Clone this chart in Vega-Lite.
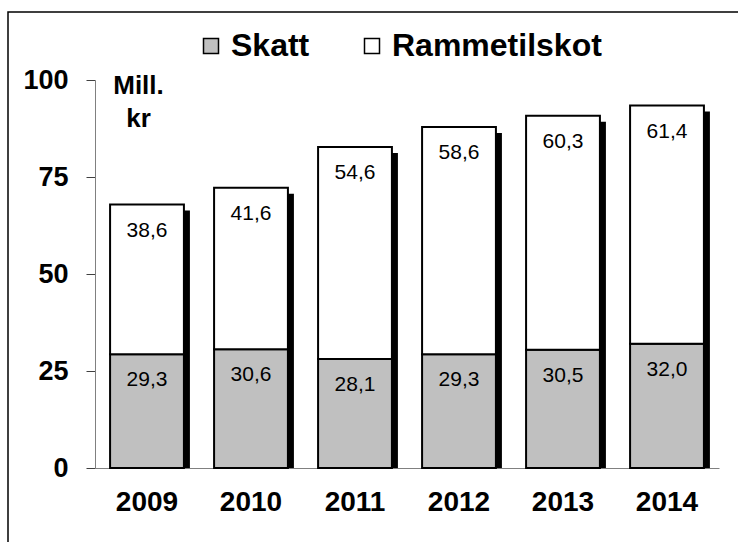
{
  "$schema": "https://vega.github.io/schema/vega-lite/v6.json",
  "width": 740,
  "height": 540,
  "autosize": {"type": "none"},
  "padding": {"left": 8, "top": 12, "right": -10, "bottom": -10},
  "background": "white",
  "config": {
    "view": {"stroke": "black", "strokeWidth": 1.5},
    "font": "Liberation Sans",
    "locale": {"number": {"decimal": ",", "thousands": " ", "grouping": [3], "currency": ["", " kr"]}}
  },
  "data": {
    "values": [
      {"year": "2009", "series": "Skatt", "value": 29.3},
      {"year": "2009", "series": "Rammetilskot", "value": 38.6},
      {"year": "2010", "series": "Skatt", "value": 30.6},
      {"year": "2010", "series": "Rammetilskot", "value": 41.6},
      {"year": "2011", "series": "Skatt", "value": 28.1},
      {"year": "2011", "series": "Rammetilskot", "value": 54.6},
      {"year": "2012", "series": "Skatt", "value": 29.3},
      {"year": "2012", "series": "Rammetilskot", "value": 58.6},
      {"year": "2013", "series": "Skatt", "value": 30.5},
      {"year": "2013", "series": "Rammetilskot", "value": 60.3},
      {"year": "2014", "series": "Skatt", "value": 32.0},
      {"year": "2014", "series": "Rammetilskot", "value": 61.4}
    ]
  },
  "encoding": {
    "x": {
      "field": "year",
      "type": "ordinal",
      "scale": {"range": [87, 711], "paddingInner": 0.29, "paddingOuter": 0.145},
      "axis": {
        "title": null,
        "labelAngle": 0,
        "labelFontSize": 28,
        "labelFontWeight": "bold",
        "labelColor": "black",
        "ticks": false,
        "domainColor": "#808080",
        "domainWidth": 1,
        "labelPadding": 20,
        "offset": -84
      }
    }
  },
  "layer": [
    {
      "mark": {"type": "bar", "color": "black", "xOffset": 6, "yOffset": 6},
      "encoding": {
        "y": {
          "aggregate": "sum",
          "field": "value",
          "type": "quantitative",
          "title": ["Mill.", "kr"],
          "scale": {"domain": [0, 100], "range": [456, 68]},
          "axis": {
            "title": ["Mill.", "kr"],
            "titleAngle": 0,
            "titleAlign": "center",
            "titleBaseline": "top",
            "titleX": 43,
            "titleY": 60,
            "titleFontSize": 26,
            "titleFontWeight": "bold",
            "titleColor": "black",
            "titleLineHeight": 33,
            "values": [0, 25, 50, 75, 100],
            "labelFontSize": 27,
            "labelFontWeight": "bold",
            "labelColor": "black",
            "tickColor": "#404040",
            "tickSize": 9,
            "domainColor": "#808080",
            "labelPadding": 18,
            "offset": -87,
            "grid": false
          }
        }
      }
    },
    {
      "mark": {"type": "bar", "stroke": "black", "strokeWidth": 2},
      "encoding": {
        "y": {"field": "value", "type": "quantitative", "stack": "zero", "title": ["Mill.", "kr"]},
        "order": {"field": "series", "sort": "descending"},
        "color": {
          "field": "series",
          "type": "nominal",
          "sort": ["Skatt", "Rammetilskot"],
          "scale": {"domain": ["Skatt", "Rammetilskot"], "range": ["#c0c0c0", "#ffffff"]},
          "legend": {
            "orient": "none",
            "legendX": 187,
            "legendY": 18,
            "direction": "horizontal",
            "title": null,
            "padding": 0,
            "labelFontSize": 32,
            "labelFontWeight": "bold",
            "labelColor": "black",
            "labelLimit": 500,
            "symbolType": "square",
            "symbolSize": 225,
            "symbolStrokeColor": "black",
            "symbolStrokeWidth": 1.5,
            "symbolOpacity": 1,
            "labelOffset": 4,
            "columnPadding": 46
          }
        }
      }
    },
    {
      "mark": {"type": "text", "baseline": "middle", "dy": 26, "fontSize": 21, "color": "black"},
      "encoding": {
        "y": {"field": "value", "type": "quantitative", "stack": "zero", "title": ["Mill.", "kr"]},
        "order": {"field": "series", "sort": "descending"},
        "detail": {"field": "series"},
        "text": {"field": "value", "type": "quantitative", "format": ".1f"}
      }
    }
  ]
}
